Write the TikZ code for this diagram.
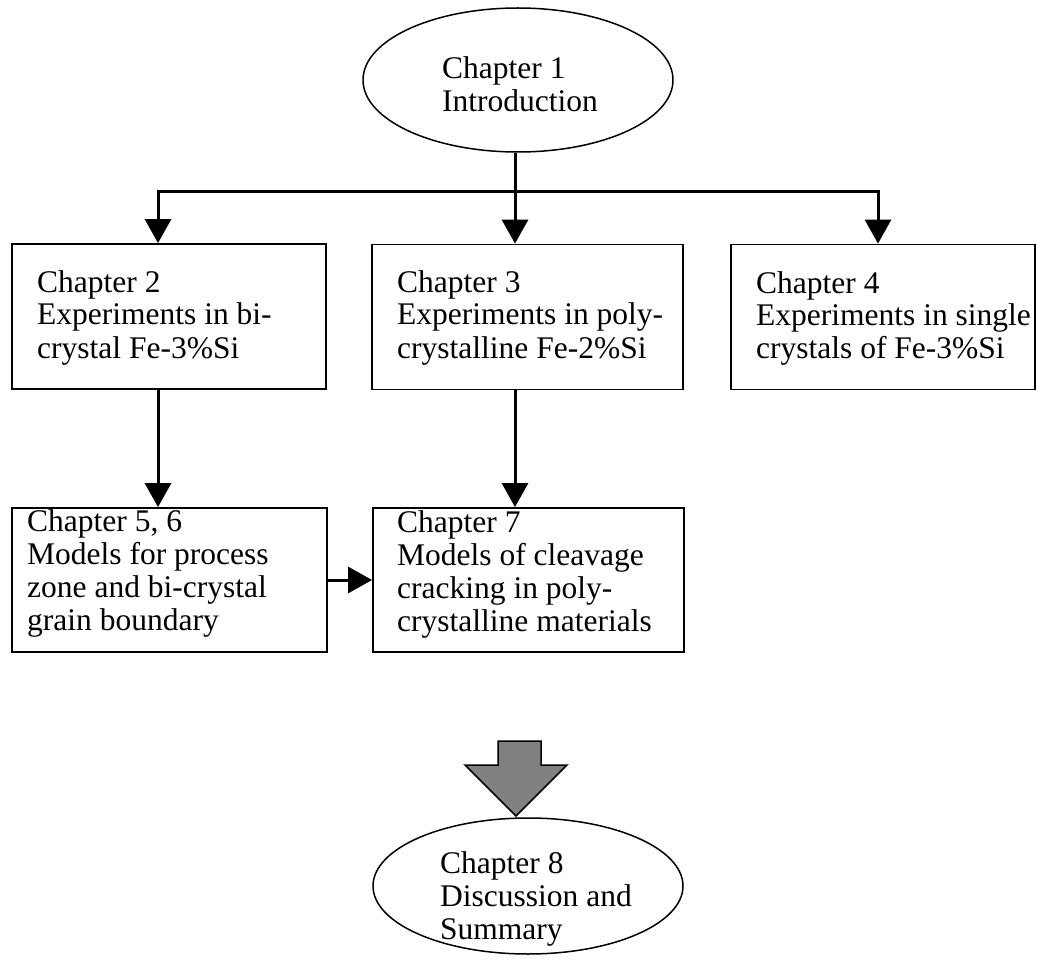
\documentclass[tikz,border=0pt]{standalone}
\usepackage{fontspec}
\setmainfont{Liberation Serif}
\usetikzlibrary{arrows.meta,shapes.geometric}
\begin{document}
\begin{tikzpicture}[x=1pt,y=-1pt,
  box/.style={draw, line width=1.8pt, minimum height=145pt, inner sep=0pt},
  oval/.style={draw, ellipse, line width=1.5pt, inner sep=0pt},
  txt/.style={align=left, inner sep=0pt, font=\fontsize{31.5}{33}\selectfont, anchor=base west},
  link/.style={line width=3pt},
  conn/.style={line width=3pt, -{Triangle[length=24pt,width=26pt]}},
  bigarrow/.style={draw, line width=1.5pt, fill=black!50, line join=miter},
]
\useasboundingbox (0,0) rectangle (1037,960);

% nodes (shapes)
\node[oval, minimum width=310pt, minimum height=144pt] (c1) at (518,80) {};
\node[box, minimum width=314pt] (c2) at (169,316.5) {};
\node[box, minimum width=311pt] (c3) at (527.5,317) {};
\node[box, minimum width=304pt] (c4) at (883,317) {};
\node[box, minimum width=315pt, minimum height=144pt] (c5) at (169.5,580) {};
\node[box, minimum width=311pt, minimum height=144pt] (c7) at (528.5,580) {};
\node[oval, minimum width=310pt, minimum height=136pt] (c8) at (528,886) {};

% texts (anchor = baseline of last line)
\node[txt] (t1) at (442,112) {Chapter 1\\Introduction};
\node[txt] (t2) at (37,358) {Chapter 2\\Experiments in bi-\\crystal Fe-3\%Si};
\node[txt] (t3) at (397,358) {Chapter 3\\Experiments in poly-\\crystalline Fe-2\%Si};
\node[txt] (t4) at (756,359) {Chapter 4\\Experiments in single\\crystals of Fe-3\%Si};
\node[txt] (t5) at (27,630) {Chapter 5, 6\\Models for process\\zone and bi-crystal\\grain boundary};
\node[txt] (t7) at (397,631) {Chapter 7\\Models of cleavage\\cracking in poly-\\crystalline materials};
\node[txt] (t8) at (440,939) {Chapter 8\\Discussion and\\Summary};

% connectors
\coordinate (j) at (515,192);
\coordinate (a2) at (158,0);
\coordinate (a4) at (878,0);
\draw[link] (c1.south -| j) -- (j);
\draw[conn] (j) -| (a2 |- c2.north);
\draw[conn] (j) -- (j |- c3.north);
\draw[conn] (j) -| (a4 |- c4.north);
\draw[conn] (a2 |- c2.south) -- (a2 |- c5.north);
\draw[conn] (j |- c3.south) -- (j |- c7.north);
\draw[conn] (c5.east) -- (c7.west);

% big gray arrow
\path[bigarrow] (498,741) -- (541,741) -- (541,765) -- (567,765) -- (516,816) -- (465,765) -- (498,765) -- cycle;
\end{tikzpicture}
\end{document}
